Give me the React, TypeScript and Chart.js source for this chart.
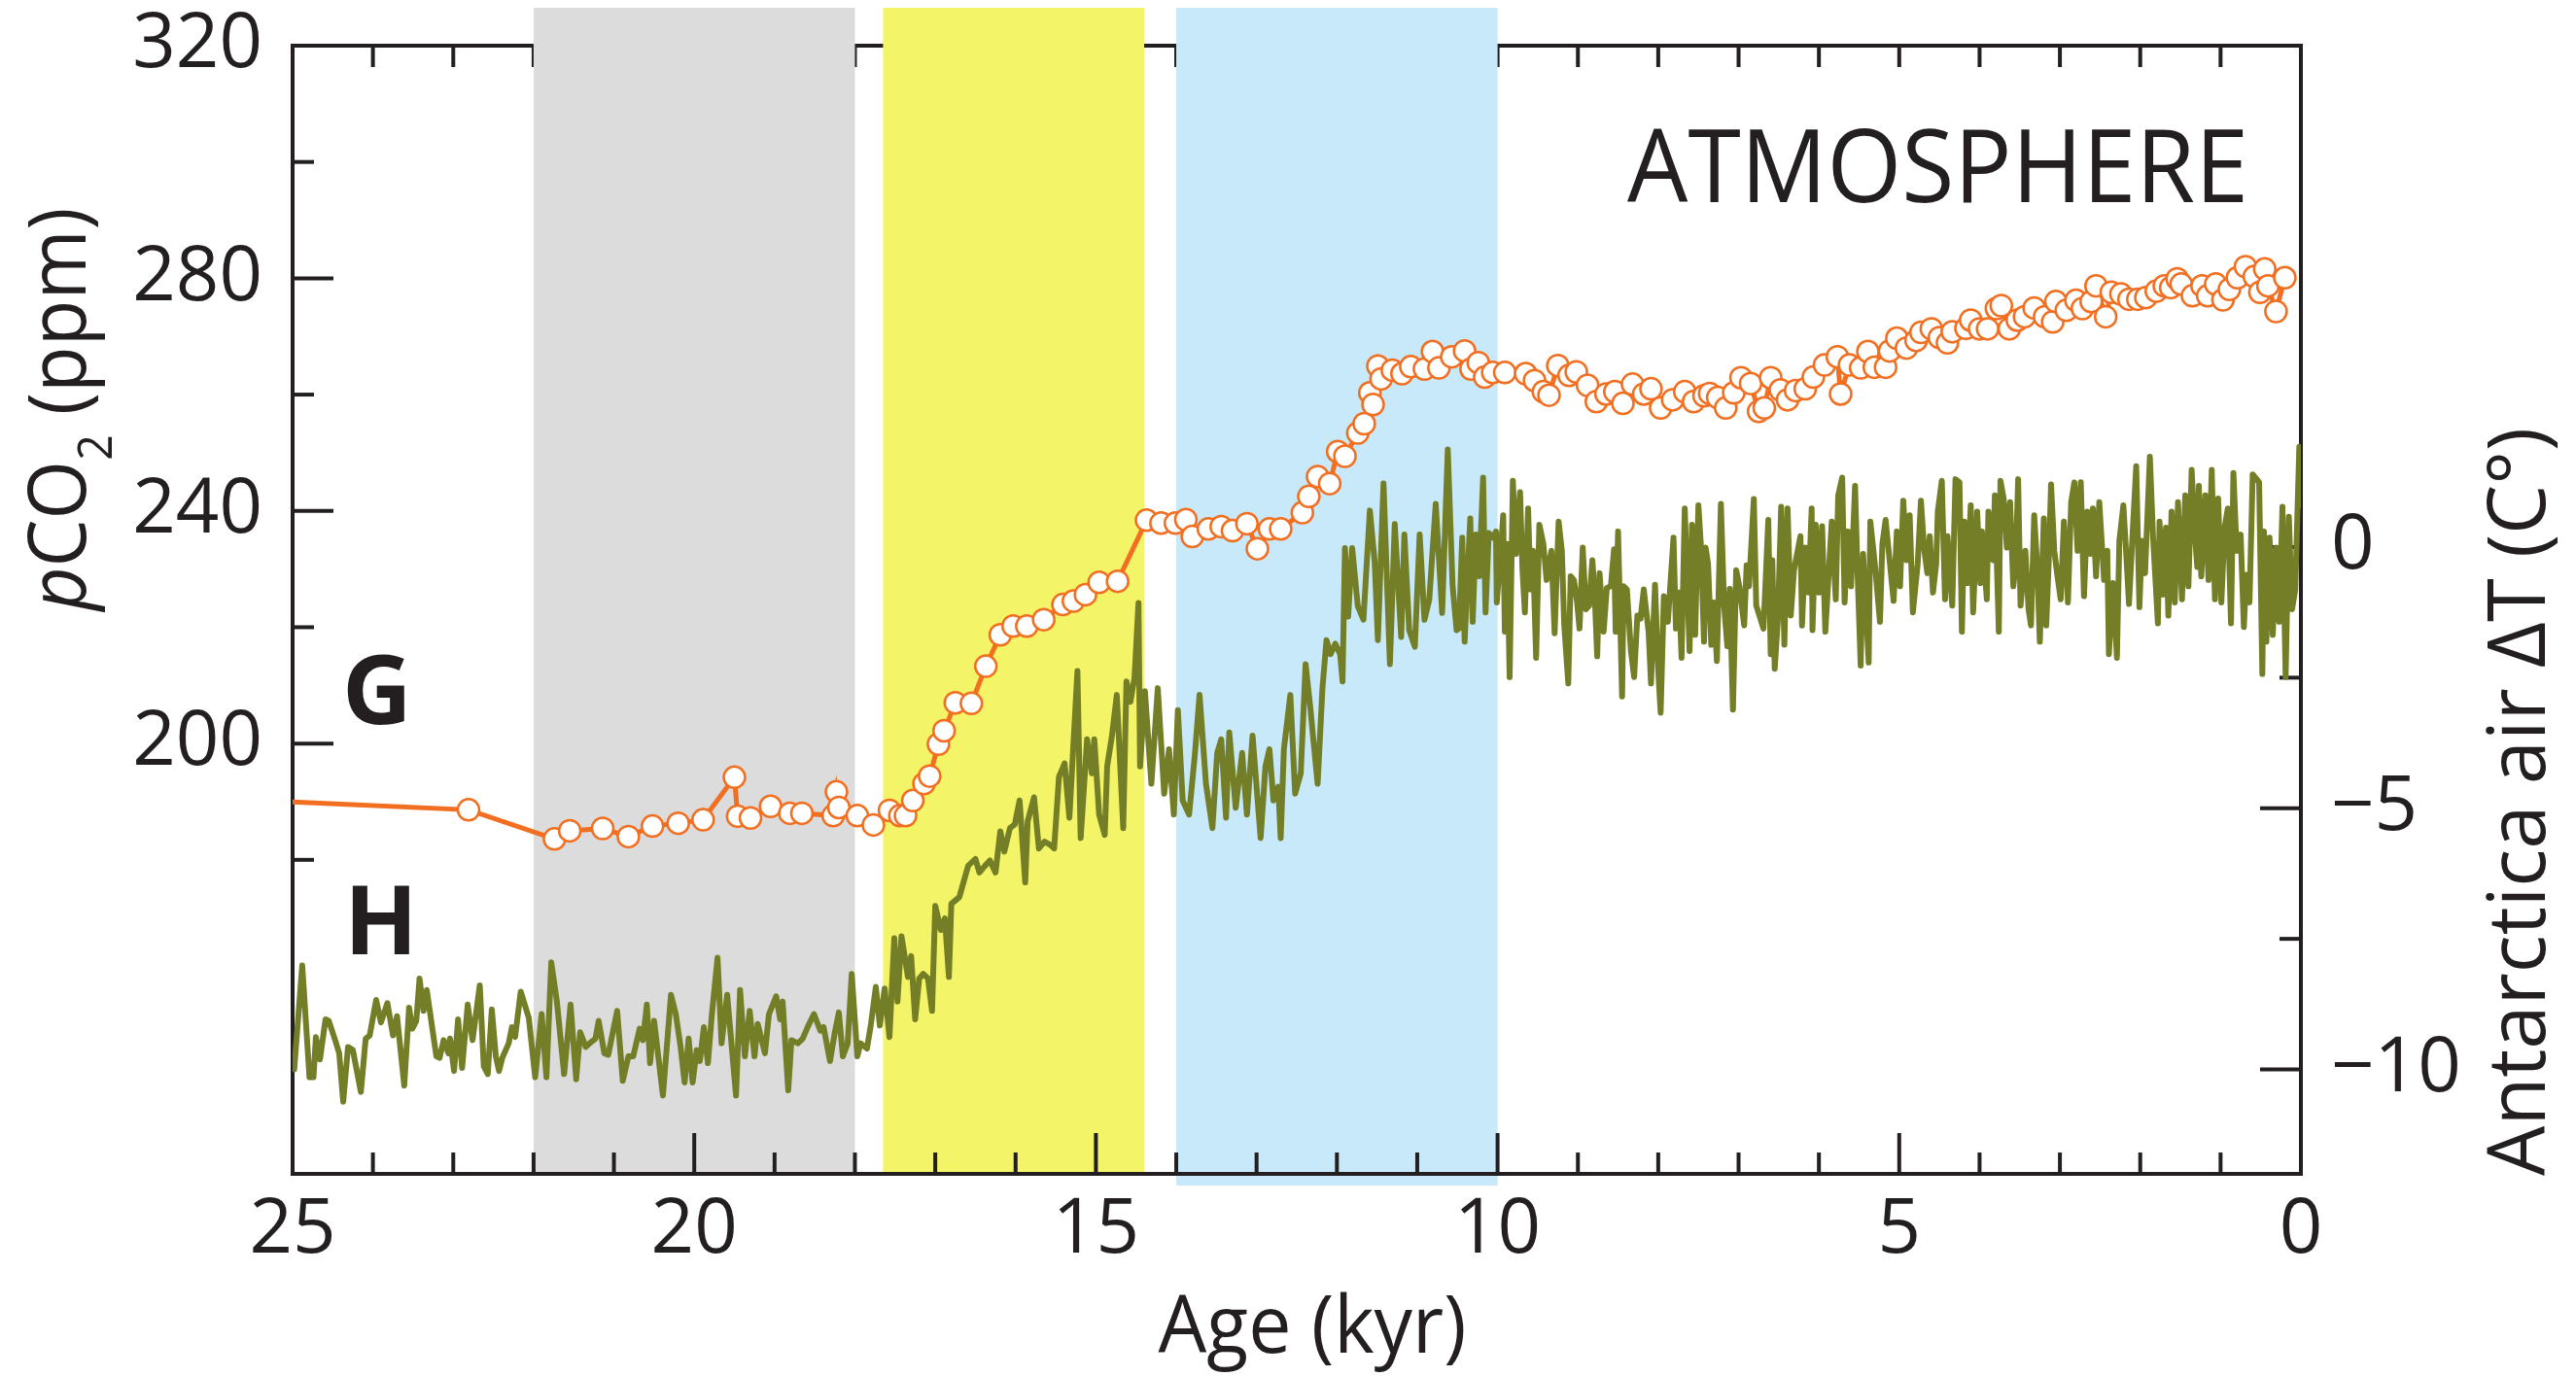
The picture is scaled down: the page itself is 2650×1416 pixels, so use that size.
import React, { useEffect, useRef } from "react";
import { Chart, registerables } from "chart.js";

Chart.register(...registerables);

// ---------- DATA ----------
// Atmospheric CO2 (G): age in kyr, pCO2 in ppm
const CO2_AGE = [
  26.0, 22.81, 21.74, 21.55, 21.14, 20.82, 20.52, 20.2, 19.89, 19.5,
  19.46, 19.3, 19.05, 18.81, 18.66, 18.27, 18.23, 18.2, 17.97, 17.77,
  17.57, 17.44, 17.37, 17.28, 17.14, 17.07, 16.96, 16.89, 16.75, 16.55,
  16.37, 16.19, 16.03, 15.86, 15.65, 15.41, 15.28, 15.13, 14.96, 14.73,
  14.37, 14.19, 14.01, 13.88, 13.8, 13.6, 13.44, 13.3, 13.12, 12.99,
  12.84, 12.7, 12.43, 12.35, 12.24, 12.09, 11.99, 11.9, 11.74, 11.66,
  11.59, 11.55, 11.49, 11.45, 11.31, 11.19, 11.08, 10.91, 10.81, 10.73,
  10.57, 10.41, 10.33, 10.24, 10.16, 10.06, 9.91, 9.65, 9.54, 9.43,
  9.36, 9.25, 9.11, 9.02, 8.88, 8.77, 8.65, 8.54, 8.44, 8.32,
  8.18, 8.09, 7.97, 7.82, 7.67, 7.56, 7.43, 7.36, 7.26, 7.16,
  7.06, 6.97, 6.85, 6.75, 6.68, 6.6, 6.48, 6.39, 6.29, 6.17,
  6.07, 5.93, 5.77, 5.73, 5.62, 5.48, 5.39, 5.31, 5.17, 5.12,
  5.03, 4.91, 4.79, 4.73, 4.6, 4.5, 4.4, 4.34, 4.17, 4.11,
  4.0, 3.9, 3.79, 3.73, 3.63, 3.53, 3.44, 3.32, 3.19, 3.09,
  3.05, 2.92, 2.8, 2.72, 2.61, 2.55, 2.43, 2.36, 2.24, 2.14,
  2.03, 1.93, 1.8, 1.7, 1.62, 1.54, 1.49, 1.35, 1.23, 1.16,
  1.06, 0.97, 0.89, 0.79, 0.69, 0.58, 0.51, 0.45, 0.41, 0.31,
  0.2,
];
const CO2_PPM = [
  190.6, 188.6, 183.6, 185.0, 185.4, 184.0, 185.8, 186.3, 186.9, 194.2,
  187.5, 187.2, 189.2, 188.0, 188.0, 187.6, 191.7, 189.0, 187.6, 186.0,
  188.5, 187.6, 187.6, 190.2, 193.1, 194.4, 199.9, 202.2, 207.0, 206.9,
  213.3, 218.7, 220.2, 220.2, 221.3, 223.9, 224.5, 225.6, 227.7, 227.9,
  238.4, 237.9, 237.9, 238.5, 235.6, 236.9, 237.3, 236.6, 237.8, 233.5,
  236.9, 236.9, 239.7, 242.5, 245.9, 244.7, 250.2, 249.4, 253.4, 255.0,
  260.3, 258.3, 264.9, 262.7, 264.2, 263.6, 264.8, 264.4, 267.4, 264.6,
  266.5, 267.5, 264.4, 265.5, 263.0, 263.8, 263.8, 263.6, 262.4, 260.5,
  259.9, 265.0, 263.3, 263.9, 261.6, 258.8, 260.1, 260.5, 258.5, 261.8,
  260.1, 261.0, 257.7, 259.1, 260.5, 258.8, 259.8, 260.2, 259.5, 257.7,
  260.3, 262.9, 261.9, 257.1, 257.7, 262.9, 260.8, 259.1, 260.7, 261.0,
  263.0, 265.1, 266.5, 260.1, 265.1, 264.6, 267.4, 264.7, 264.7, 267.5,
  269.7, 268.0, 269.3, 270.7, 271.3, 269.8, 268.9, 270.8, 271.4, 272.8,
  271.3, 271.3, 274.8, 275.3, 271.3, 272.8, 273.4, 274.9, 273.4, 272.5,
  276.0, 274.5, 276.2, 274.8, 276.0, 278.7, 273.4, 277.6, 277.3, 276.4,
  276.4, 276.7, 277.8, 278.7, 278.4, 279.9, 279.0, 277.0, 278.7, 277.0,
  279.0, 276.3, 278.1, 280.1, 282.0, 280.3, 277.6, 281.6, 278.7, 274.3,
  280.1,
];

// Antarctic air temperature anomaly (H): age in kyr, dT in C
const TEMP_AGE = [
  24.98, 24.88, 24.79, 24.74, 24.71, 24.66, 24.59, 24.55, 24.47, 24.42,
  24.37, 24.31, 24.25, 24.15, 24.09, 24.04, 23.96, 23.9, 23.82, 23.75,
  23.7, 23.61, 23.55, 23.51, 23.46, 23.42, 23.37, 23.33, 23.21, 23.17,
  23.12, 23.06, 23.04, 22.99, 22.94, 22.89, 22.82, 22.76, 22.67, 22.62,
  22.57, 22.52, 22.47, 22.43, 22.39, 22.31, 22.27, 22.23, 22.16, 22.06,
  21.98, 21.9, 21.84, 21.78, 21.71, 21.62, 21.54, 21.47, 21.42, 21.35,
  21.28, 21.23, 21.19, 21.12, 21.07, 20.96, 20.89, 20.82, 20.76, 20.68,
  20.64, 20.59, 20.55, 20.5, 20.39, 20.29, 20.23, 20.17, 20.12, 20.07,
  20.02, 19.97, 19.93, 19.88, 19.83, 19.78, 19.71, 19.66, 19.59, 19.48,
  19.43, 19.37, 19.31, 19.25, 19.21, 19.12, 19.07, 18.98, 18.93, 18.9,
  18.83, 18.79, 18.71, 18.65, 18.58, 18.51, 18.43, 18.39, 18.31, 18.25,
  18.2, 18.15, 18.09, 18.04, 17.97, 17.93, 17.85, 17.8, 17.74, 17.69,
  17.63, 17.57, 17.51, 17.47, 17.42, 17.34, 17.3, 17.25, 17.2, 17.15,
  17.09, 17.04, 17.0, 16.93, 16.88, 16.83, 16.8, 16.7,
  16.59, 16.5, 16.45, 16.38, 16.32, 16.25, 16.19, 16.14, 16.07, 16.01,
  15.95, 15.88, 15.85, 15.77, 15.71, 15.64, 15.57, 15.52, 15.46, 15.39,
  15.33, 15.23, 15.19, 15.11, 15.05, 15.02, 14.96, 14.89, 14.86, 14.8,
  14.74, 14.66, 14.62, 14.57, 14.52, 14.47, 14.45, 14.39, 14.31, 14.23,
  14.15, 14.09, 14.03, 13.98, 13.92, 13.84, 13.77, 13.71, 13.63, 13.55,
  13.49, 13.44, 13.38, 13.34, 13.26, 13.18, 13.12, 13.05, 12.95, 12.89,
  12.84, 12.79, 12.73, 12.7, 12.66, 12.58, 12.52, 12.45, 12.39, 12.33,
  12.29, 12.24, 12.18, 12.13, 12.08, 12.02, 11.96, 11.93, 11.9, 11.86,
  11.81, 11.74, 11.67, 11.59, 11.53, 11.49, 11.42, 11.34, 11.28, 11.2,
  11.16, 11.1, 11.03, 10.97, 10.91, 10.85, 10.77, 10.69, 10.62, 10.56,
  10.51,
  10.48, 10.44, 10.41, 10.37, 10.34, 10.31, 10.27, 10.23, 10.18, 10.15,
  10.11, 10.06, 10.02, 10.01, 9.96, 9.93, 9.91, 9.88, 9.85, 9.81,
  9.77, 9.72, 9.69, 9.66, 9.62, 9.59, 9.56, 9.52, 9.48, 9.43,
  9.39, 9.33, 9.29, 9.24, 9.2, 9.17, 9.12, 9.09, 9.05, 9.01,
  8.98, 8.94, 8.9, 8.86, 8.82, 8.79, 8.76, 8.73, 8.68, 8.64,
  8.59, 8.55, 8.53, 8.5, 8.45, 8.43, 8.39, 8.34, 8.3, 8.26,
  8.22, 8.18, 8.12, 8.09, 8.04, 8.0, 7.97, 7.93, 7.88, 7.81,
  7.78, 7.74, 7.71, 7.67, 7.61, 7.58, 7.54, 7.5, 7.47, 7.43,
  7.41, 7.38, 7.34, 7.31, 7.27, 7.22, 7.18, 7.14, 7.11, 7.07,
  7.03, 6.99, 6.93, 6.9, 6.87, 6.81, 6.78, 6.69, 6.63, 6.6,
  6.58, 6.55, 6.51, 6.47, 6.43, 6.39, 6.35, 6.31, 6.23, 6.21,
  6.17, 6.13, 6.09, 6.08, 6.04, 6.0, 5.96, 5.92, 5.84, 5.79,
  5.76, 5.71, 5.68, 5.64, 5.6, 5.55, 5.52, 5.48, 5.45, 5.38,
  5.36, 5.3,
  5.24, 5.21, 5.17, 5.12, 5.07, 5.03, 4.99, 4.95, 4.91, 4.87,
  4.83, 4.77, 4.73, 4.69, 4.65, 4.62, 4.58, 4.54, 4.52, 4.47,
  4.43, 4.4, 4.34, 4.3, 4.25, 4.22, 4.19, 4.15, 4.11, 4.08,
  4.03, 3.99, 3.97, 3.91, 3.89, 3.83, 3.81, 3.76, 3.74, 3.7,
  3.66, 3.62, 3.58, 3.55, 3.52, 3.49, 3.43, 3.39, 3.36, 3.32,
  3.28, 3.25, 3.2, 3.17, 3.14, 3.11, 3.07, 3.03, 2.99, 2.95,
  2.9, 2.86, 2.82, 2.78, 2.74, 2.7, 2.66, 2.62, 2.59, 2.55,
  2.51, 2.45, 2.41, 2.39, 2.34, 2.29, 2.26, 2.21, 2.17, 2.14,
  2.09, 2.05, 2.01, 1.98, 1.94, 1.88, 1.84, 1.78, 1.76, 1.72,
  1.68, 1.65, 1.61, 1.57, 1.53, 1.48, 1.44, 1.4, 1.36, 1.32,
  1.29, 1.27, 1.24, 1.19, 1.15, 1.11, 1.07, 1.03, 0.99, 0.95,
  0.91, 0.87, 0.84, 0.8, 0.75, 0.71, 0.68, 0.64, 0.6, 0.55,
  0.52, 0.48, 0.46, 0.43, 0.39, 0.35, 0.31, 0.27, 0.23, 0.19,
  0.15, 0.11, 0.07, 0.02, 0.0,
];
const TEMP_DT = [
  -10.0, -8.01, -10.15, -10.15, -9.38, -9.81, -9.04, -9.07, -9.44, -9.69,
  -10.62, -9.57, -9.63, -10.43, -9.41, -9.35, -8.67, -9.1, -8.73, -9.35,
  -8.98, -10.31, -8.82, -9.22, -9.07, -8.26, -8.88, -8.48, -9.75, -9.78,
  -9.44, -9.69, -9.41, -10.03, -9.04, -9.97, -8.76, -9.44, -8.39, -9.94,
  -10.09, -8.85, -9.75, -10.03, -9.78, -9.5, -9.19, -9.38, -8.51, -9.01,
  -10.15, -8.94, -10.15, -7.95, -8.7, -10.09, -8.76, -10.19, -9.29, -9.57,
  -9.47, -9.41, -9.07, -9.69, -9.72, -8.88, -10.22, -9.75, -9.75, -9.22,
  -9.44, -8.76, -9.88, -9.07, -10.5, -8.57, -8.94, -9.57, -10.25, -9.41,
  -10.25, -9.63, -9.84, -9.19, -9.88, -8.94, -7.86, -9.5, -8.57, -10.5,
  -8.48, -9.75, -8.88, -9.75, -9.13, -9.69, -8.94, -8.6, -9.04, -8.7,
  -10.4, -9.44, -9.5, -9.41, -9.16, -8.94, -9.26, -9.19, -9.84, -9.29,
  -8.91, -9.75, -9.5, -8.17, -9.75, -9.5, -9.6, -9.13, -8.42, -9.16,
  -8.45, -9.38, -7.49, -8.7, -7.45, -8.23, -7.83, -9.04, -8.26, -8.17,
  -8.26, -8.88, -6.87, -7.33, -7.11, -8.23, -6.83, -6.7,
  -6.1, -5.97, -6.23, -6.1, -6.0, -6.23, -5.44, -5.83, -5.38, -5.31,
  -4.85, -6.42, -5.25, -4.79, -5.77, -5.64, -5.7, -5.77, -4.4, -4.14,
  -5.18, -2.37, -5.57, -3.68, -4.33, -3.68, -5.12, -5.51, -4.2, -3.61,
  -2.83, -5.38, -2.57, -2.96, -2.5, -1.07, -4.2, -2.76, -4.53, -2.7,
  -4.72, -3.87, -5.12, -3.12, -4.85, -5.12, -4.0, -2.83, -4.53, -5.38,
  -3.94, -3.68, -5.18, -3.55, -4.99, -3.94, -5.12, -3.61, -5.57, -4.2,
  -3.87, -4.85, -4.59, -5.57, -3.87, -2.83, -4.72, -4.33, -2.24, -3.09,
  -3.74, -4.53, -2.7, -1.78, -2.05, -1.85, -2.05, -2.57, -0.02, -1.33,
  -0.02, -1.13, -1.39, 0.7, -0.28, -1.78, 1.22, -2.24, 0.44, -1.72,
  0.24, -1.59, -1.91, 0.24, -1.39, -1.0, 0.83, -1.26, 1.87, -0.74,
  -1.59,
  -1.56, 0.18, -1.81, -0.44, 0.55, -1.43, 0.24, -0.56, 1.33, -1.25,
  0.27, 0.18, 0.3, -1.06, -0.07, 0.61, -1.62, 0.06, -2.49, 1.27,
  -0.13, 1.05, -0.44, -1.25, 0.74, -0.81, -0.07, -2.12, 0.43, 0.06,
  -0.63, -0.07, -1.65, 0.49, -0.07, -1.5, -2.61, -0.56, -0.63, -1.06,
  -1.56, -0.01, -1.19, -1.12, -0.25, -0.94, -2.09, -0.5, -1.62, -0.78,
  -0.75, -0.04, -1.62, 0.3, -2.86, -0.75, -0.81, -1.99, -2.49, -1.31,
  -1.37, -0.81, -1.62, -2.61, -0.72, -2.37, -3.17, -0.94, -1.43, 0.18,
  -1.56, -0.87, -2.12, 0.74, -1.99, 0.43, -1.68, 0.8, 0.06, -1.81,
  -0.01, -0.32, -1.87, -1.06, -2.18, 0.83, -1.12, -1.9, -0.8, -3.11,
  -0.44, -0.75, -1.5, -0.35, -0.75, 0.92, -1.12, -1.56, 0.52, -2.05,
  -0.25, -2.33, -1.37, 0.77, -1.87, 0.74, -1.31, -0.44, 0.21, -1.5,
  -0.01, -0.87, 0.74, -1.59, 0.43, -0.87, 0.4, -1.62, 0.49, -1.0,
  0.99, 1.33, -1.06, 0.3, -0.75, 1.17, -0.44, -2.27, -0.13, -2.21,
  0.49, -0.38,
  -1.43, 0.06, 0.52, -0.25, -1.03, 0.3, -0.75, 0.89, -0.25, 0.61,
  -1.25, -0.32, 0.89, -0.04, -0.5, 0.21, -0.87, -0.32, 0.68, 1.27,
  -1.0, 0.21, -1.12, 1.3, 1.24, -1.62, 0.49, -0.69, 0.8, -1.25,
  0.68, -0.69, 0.3, -1.0, 0.68, -0.25, 0.99, -1.62, 1.27, 0.93,
  -0.01, 0.86, -0.75, -0.32, 1.3, -1.12, -0.07, -1.19, -1.5, 0.61,
  -0.44, -1.81, 0.55, -1.5, -0.32, 1.2, -0.07, -0.56, -1.0, 0.49,
  -1.06, 0.86, 1.24, -0.07, 1.24, -0.94, 0.68, -0.13, 0.74, -0.56,
  0.86, -0.63, -0.07, -2.05, -0.69, -2.12, 0.12, 0.8, -0.25, -1.09,
  0.4, 1.55, -1.15, 0.12, -0.5, 1.73, 0.18, -1.46, 0.49, -0.91,
  0.37, -1.31, 0.68, -1.06, 0.86, -1.0, 0.99, -0.75, 1.48, 0.24,
  -0.38, 1.17, -0.56, 0.99, -0.63, 1.48, -1.0, 0.93, -1.06, 0.37,
  0.74, -1.46, 1.42, -0.07, 0.24, -1.53, -0.53, -1.06, 1.39, 1.3,
  1.24, -2.43, 0.3, -1.81, 0.18, -1.68, -0.01, -1.43, 0.77, -2.49,
  0.58, -1.19, -0.81, 1.92, 0.8,
];

// Shaded intervals (kyr)
const BAND_FROM = [22.0, 17.65, 14.0];
const BAND_TO = [18.0, 14.4, 10.0];

// Axis ticks
const AGE_MIN = 0;
const AGE_MAX = 25;
const AGE_TICKS = [25, 20, 15, 10, 5, 0];
const CO2_MIN = 126;
const CO2_MAX = 320;
const CO2_TICKS = [200, 240, 280, 320];
const CO2_MINOR_TICKS = [180, 220, 260, 300];
const DT_MIN = -12;
const DT_MAX = 9.6;
const DT_TICKS = [-10, -5, 0];
const DT_MINOR_TICKS = [-7.5, -2.5];

// Text
const PANEL_LABEL = "ATMOSPHERE";
const CO2_LABEL = "G";
const DT_LABEL = "H";
const X_TITLE = "Age (kyr)";
const Y2_TITLE = "Antarctica air \u0394T (C\u00b0)";

// ---------- STYLE ----------
const FONT = '"Open Sans", "DejaVu Sans", sans-serif';
const INK = "#231f20";
const ORANGE = "#f26f21";
const OLIVE = "#737e27";
const BAND_COLORS = ["#dcdcdc", "#f4f468", "#c7e9f9"];
const BAND_EXTRA_BOTTOM = [0, 0, 12];

const framePlugin = {
  id: "frameAndBands",
  beforeDatasetsDraw(chart: any) {
    const { ctx, chartArea: a, scales } = chart;
    const xs = scales.x;
    const ys = scales.y;
    const y2 = scales.y2;
    const line = (x0: number, y0: number, x1: number, y1: number) => {
      ctx.beginPath();
      ctx.moveTo(x0, y0);
      ctx.lineTo(x1, y1);
      ctx.stroke();
    };
    ctx.save();
    ctx.strokeStyle = INK;
    ctx.lineWidth = 4;
    ctx.lineCap = "butt";
    // top frame and its ticks (underneath the shaded bands)
    line(a.left - 2, a.top, a.right + 2, a.top);
    for (let k = AGE_MIN + 1; k < AGE_MAX; k++) {
      const px = xs.getPixelForValue(k);
      line(px, a.top, px, a.top + 22);
    }
    // bands
    for (let i = 0; i < BAND_FROM.length; i++) {
      const x0 = xs.getPixelForValue(BAND_FROM[i]);
      const x1 = xs.getPixelForValue(BAND_TO[i]);
      ctx.fillStyle = BAND_COLORS[i];
      ctx.fillRect(x0, a.top - 39, x1 - x0, a.bottom - a.top + 39 + BAND_EXTRA_BOTTOM[i]);
    }
    // left, right, bottom axes
    line(a.left, a.top - 2, a.left, a.bottom + 2);
    line(a.right, a.top - 2, a.right, a.bottom + 2);
    line(a.left - 2, a.bottom, a.right + 2, a.bottom);
    // bottom ticks
    for (let k = AGE_MIN + 1; k < AGE_MAX; k++) {
      const px = xs.getPixelForValue(k);
      const len = AGE_TICKS.includes(k) ? 42 : 22;
      line(px, a.bottom, px, a.bottom - len);
    }
    // left ticks
    CO2_TICKS.forEach((v) => {
      const py = ys.getPixelForValue(v);
      line(a.left, py, a.left + 42, py);
    });
    CO2_MINOR_TICKS.forEach((v) => {
      const py = ys.getPixelForValue(v);
      line(a.left, py, a.left + 22, py);
    });
    // right ticks
    DT_TICKS.forEach((v) => {
      const py = y2.getPixelForValue(v);
      line(a.right, py, a.right - 42, py);
    });
    DT_MINOR_TICKS.forEach((v) => {
      const py = y2.getPixelForValue(v);
      line(a.right, py, a.right - 22, py);
    });
    ctx.restore();
  },
  afterDraw(chart: any) {
    const { ctx, chartArea: a } = chart;
    ctx.save();
    ctx.fillStyle = INK;
    ctx.textBaseline = "alphabetic";

    // Panel label
    ctx.font = `105px ${FONT}`;
    ctx.textAlign = "right";
    let s = 639 / ctx.measureText(PANEL_LABEL).width;
    ctx.save();
    ctx.translate(a.right - 54, a.top + 161);
    ctx.scale(s, 1);
    ctx.fillText(PANEL_LABEL, 0, 0);
    ctx.restore();

    // G / H
    ctx.font = `bold 99px ${FONT}`;
    ctx.textAlign = "left";
    ctx.fillText(CO2_LABEL, a.left + 51, a.top + 698);
    ctx.fillText(DT_LABEL, a.left + 53, a.top + 935);

    // X title
    ctx.font = `82px ${FONT}`;
    ctx.textAlign = "center";
    s = 317 / ctx.measureText(X_TITLE).width;
    ctx.save();
    ctx.translate((a.left + a.right) / 2 + 16, a.bottom + 184);
    ctx.scale(s, 1);
    ctx.fillText(X_TITLE, 0, 0);
    ctx.restore();

    // Right title (rotated)
    ctx.font = `82px ${FONT}`;
    ctx.textAlign = "center";
    s = 770 / ctx.measureText(Y2_TITLE).width;
    ctx.save();
    ctx.translate(a.right + 251, a.top + 778);
    ctx.rotate(-Math.PI / 2);
    ctx.scale(s, 1);
    ctx.fillText(Y2_TITLE, 0, 0);
    ctx.restore();

    // Left title: italic p, CO, subscript 2, (ppm)
    const size = 82;
    const parts = [
      { t: "p", font: `italic ${size}px ${FONT}`, dy: 0 },
      { t: "CO", font: `${size}px ${FONT}`, dy: 0 },
      { t: "2", font: `${Math.round(size * 0.6)}px ${FONT}`, dy: size * 0.33 },
      { t: " (ppm)", font: `${size}px ${FONT}`, dy: 0 },
    ];
    let total = 0;
    const widths = parts.map((p) => {
      ctx.font = p.font;
      const w = ctx.measureText(p.t).width;
      total += w;
      return w;
    });
    s = 415 / total;
    ctx.save();
    ctx.translate(a.left - 213, a.top + 374);
    ctx.rotate(-Math.PI / 2);
    ctx.scale(s, 1);
    ctx.textAlign = "left";
    let cx = -total / 2;
    parts.forEach((p, i) => {
      ctx.font = p.font;
      ctx.fillText(p.t, cx, p.dy);
      cx += widths[i];
    });
    ctx.restore();

    ctx.restore();
  },
};

export default function App() {
  const canvasRef = useRef<HTMLCanvasElement | null>(null);

  useEffect(() => {
    document.body.style.margin = "0";
    document.body.style.overflow = "hidden";
    const canvas = canvasRef.current;
    if (!canvas) return;

    const co2Data = CO2_AGE.map((a, i) => ({ x: a, y: CO2_PPM[i] }));
    const tempData = TEMP_AGE.map((a, i) => ({ x: a, y: TEMP_DT[i] }));

    const tickFont = { family: FONT, size: 78 };

    const chart = new Chart(canvas, {
      type: "line",
      data: {
        datasets: [
          {
            label: "pCO2",
            data: co2Data,
            xAxisID: "x",
            yAxisID: "y",
            borderColor: ORANGE,
            borderWidth: 5,
            pointRadius: 11,
            pointBorderWidth: 2.5,
            pointBackgroundColor: "#ffffff",
            pointBorderColor: ORANGE,
            tension: 0,
            order: 0,
          },
          {
            label: "Antarctica air dT",
            data: tempData,
            xAxisID: "x",
            yAxisID: "y2",
            borderColor: OLIVE,
            borderWidth: 6,
            pointRadius: 0,
            tension: 0,
            borderJoinStyle: "round",
            borderCapStyle: "round",
            order: 1,
          },
        ],
      },
      options: {
        responsive: false,
        animation: false,
        devicePixelRatio: 1,
        layout: { padding: { top: 47, left: 0, right: 0, bottom: 0 } },
        plugins: {
          legend: { display: false },
          tooltip: { enabled: false },
          title: { display: false },
        },
        scales: {
          x: {
            type: "linear",
            position: "bottom",
            reverse: true,
            min: AGE_MIN,
            max: AGE_MAX,
            grid: { display: false, drawTicks: false },
            border: { display: false },
            afterFit: (s: any) => {
              s.height = 208;
              s.paddingLeft = 0;
              s.paddingRight = 0;
            },
            afterBuildTicks: (s: any) => {
              s.ticks = AGE_TICKS.map((v) => ({ value: v }));
            },
            ticks: {
              font: tickFont,
              color: INK,
              padding: 12,
              maxRotation: 0,
              autoSkip: false,
              callback: (v: any) => String(v),
            },
          },
          y: {
            type: "linear",
            position: "left",
            min: CO2_MIN,
            max: CO2_MAX,
            grid: { display: false, drawTicks: false },
            border: { display: false },
            afterFit: (s: any) => {
              s.width = 301;
              s.paddingTop = 0;
              s.paddingBottom = 0;
            },
            afterBuildTicks: (s: any) => {
              s.ticks = CO2_TICKS.map((v) => ({ value: v }));
            },
            ticks: {
              font: tickFont,
              color: INK,
              padding: 31,
              callback: (v: any) => String(v),
            },
          },
          y2: {
            type: "linear",
            position: "right",
            min: DT_MIN,
            max: DT_MAX,
            grid: { display: false, drawTicks: false },
            border: { display: false },
            afterFit: (s: any) => {
              s.width = 283;
              s.paddingTop = 0;
              s.paddingBottom = 0;
            },
            afterBuildTicks: (s: any) => {
              s.ticks = DT_TICKS.map((v) => ({ value: v }));
            },
            ticks: {
              font: tickFont,
              color: INK,
              padding: 31,
              callback: (v: any) => (v < 0 ? "\u2212" + Math.abs(v) : String(v)),
            },
          },
        },
      },
      plugins: [framePlugin],
    } as any);

    return () => {
      chart.destroy();
    };
  }, []);

  return (
    <canvas
      ref={canvasRef}
      width={2650}
      height={1416}
      style={{ display: "block", width: "2650px", height: "1416px" }}
    />
  );
}
